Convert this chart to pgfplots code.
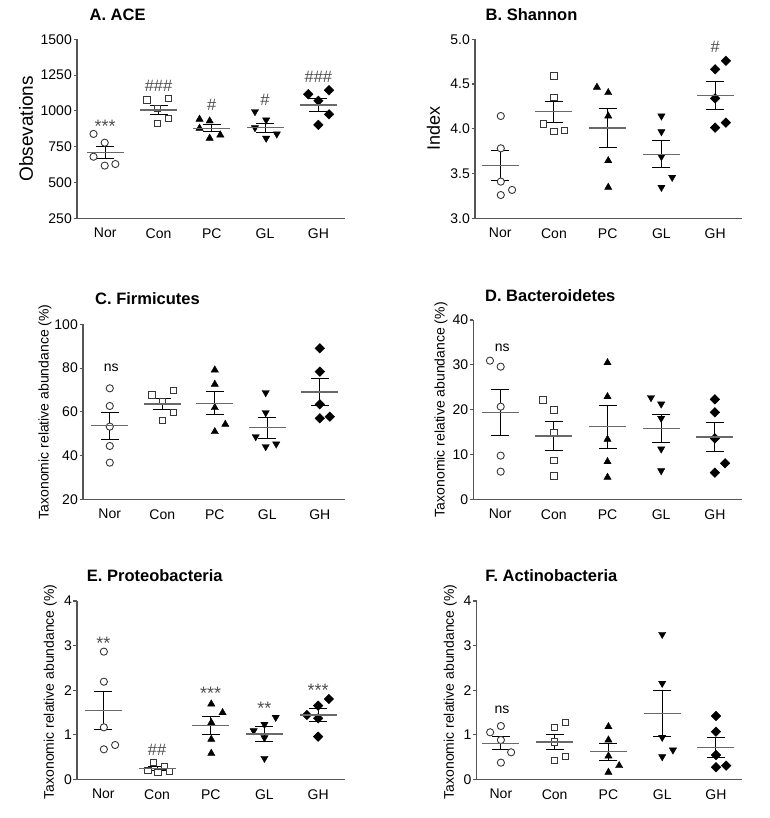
\documentclass[border=0pt]{standalone}
\usepackage{fontspec}
\setmainfont{Liberation Sans}
\usepackage{pgfplots}
\pgfplotsset{compat=1.18}

\definecolor{axcol}{RGB}{85,85,85}
\definecolor{meancol}{RGB}{105,105,105}
\definecolor{mkcol}{RGB}{55,55,55}
\definecolor{anncol}{RGB}{80,80,80}

\newcommand{\fs}[1]{\fontsize{#1}{#1}\selectfont}

\pgfplotsset{
  panel/.style={
    scale only axis, clip=false,
    axis x line*=bottom, axis y line*=left,
    axis line style={axcol, line width=1.3pt},
    xtick={0,1,2,3,4}, xticklabels={Nor,Con,PC,GL,GH},
    xtick style={draw=none},
    ytick style={axcol, line width=1.1pt},
    tick align=outside, major tick length=3.5pt,
    tick label style={font=\fs{14}},
    yticklabel style={inner sep=1.5pt},
    xticklabel style={yshift=-3pt},
    /pgf/number format/assume math mode=true,
    /pgf/number format/1000 sep={},
    ylabel style={anchor=center},
    title style={anchor=base west},
  },
  nor/.style={only marks, mark=*, mark size=3.6pt, mark options={draw=mkcol, fill=white, line width=0.9pt}},
  con/.style={only marks, mark=square*, mark size=3.2pt, mark options={draw=mkcol, fill=white, line width=0.9pt}},
  pc/.style={only marks, mark=triangle*, mark size=4.2pt, mark options={draw=black, fill=black}},
  gl/.style={only marks, mark=triangle*, mark size=4.2pt, mark options={draw=black, fill=black, rotate=180}},
  gh/.style={only marks, mark=square*, mark size=3.4pt, mark options={draw=black, fill=black, rotate=45}},
  stat/.style={only marks, mark=-, mark size=18.5pt, mark options={draw=meancol, line width=1.3pt},
    error bars/.cd, y dir=both, y explicit,
    error bar style={line width=1pt, black},
    error mark=-,
    error mark options={mark size=9pt, line width=1pt, black, rotate=90}},
}
\tikzset{
  hash/.style={text=anncol, font=\fs{16.5}, inner sep=0pt},
  star/.style={text=anncol, font=\fs{18}, inner sep=0pt},
  ns/.style={text=black, font=\fs{14}, inner sep=0pt},
}

\begin{document}
\begin{tikzpicture}
\useasboundingbox (0,0) rectangle (769pt,-818pt);

% A. ACE
\begin{axis}[panel, at={(77pt,-218.3pt)}, anchor=south west,
  width=268pt, height=179pt, xmin=-0.53, xmax=4.5,
  ymin=250, ymax=1500, ytick={250,500,750,1000,1250,1500},
  ylabel={\fs{19}Obsevations}, ylabel style={at={(axis description cs:-0.19,0.5)}},
  title={\fs{16.5}\bfseries A. ACE}, title style={at={(axis description cs:0.034,1.07)}}]
\addplot[nor] coordinates {(-0.22,839) (-0.01,778) (-0.22,680) (-0.01,618) (0.19,629)};
\addplot[con] coordinates {(0.78,1076) (1.19,1088) (0.98,1018) (0.98,914) (1.19,949)};
\addplot[pc] coordinates {(1.77,942) (1.96,930) (1.77,879) (1.96,809) (2.16,832)};
\addplot[gl] coordinates {(2.81,995) (3.02,937) (2.81,883) (3.02,809) (3.22,839)};
\addplot[gh] coordinates {(3.81,1116) (4.2,1144) (4.0,1071) (4.2,976) (4.0,902)};
\addplot[stat] coordinates {(0,711) +- (0,40) (1,1007) +- (0,29) (2,879) +- (0,26) (3,882) +- (0,31) (4,1041) +- (0,45)};
\node[star] at (axis cs:0,895) {***};
\node[hash] at (axis cs:1,1174) {\#\#\#};
\node[hash] at (axis cs:2,1041) {\#};
\node[hash] at (axis cs:3,1076) {\#};
\node[hash] at (axis cs:4,1235) {\#\#\#};
\end{axis}

% B. Shannon
\begin{axis}[panel, at={(475pt,-218.3pt)}, anchor=south west,
  width=267pt, height=179pt, xmin=-0.47, xmax=4.5,
  ymin=3, ymax=5, ytick={3,3.5,4,4.5,5},
  yticklabel style={/pgf/number format/.cd, fixed, fixed zerofill, precision=1},
  ylabel={\fs{18}Index}, ylabel style={at={(axis description cs:-0.156,0.5)}},
  title={\fs{16.5}\bfseries B. Shannon}, title style={at={(axis description cs:0.027,1.07)}}]
\addplot[nor] coordinates {(0.01,4.143) (0.01,3.782) (0.01,3.41) (0.01,3.26) (0.22,3.317)};
\addplot[con] coordinates {(1.0,4.59) (1.0,4.352) (0.8,4.054) (1.0,3.968) (1.2,3.98)};
\addplot[pc] coordinates {(1.8,4.464) (2.01,4.404) (2.01,4.143) (2.01,3.644) (2.01,3.346)};
\addplot[gl] coordinates {(3,4.143) (3,3.968) (3,3.689) (3.2,3.458) (3,3.346)};
\addplot[gh] coordinates {(4.2,4.76) (4.0,4.665) (4.0,4.34) (4.2,4.069) (4.0,4.013)};
\addplot[stat] coordinates {(0,3.588) +- (0,0.168) (1,4.19) +- (0,0.12) (2,4.01) +- (0,0.216) (3,3.715) +- (0,0.151) (4,4.37) +- (0,0.153)};
\node[hash] at (axis cs:4,4.918) {\#};
\end{axis}

% C. Firmicutes
\begin{axis}[panel, at={(83pt,-499.3pt)}, anchor=south west,
  width=262pt, height=175pt, xmin=-0.51, xmax=4.48,
  ymin=20, ymax=100, ytick={20,40,60,80,100},
  ylabel={\fs{14}Taxonomic relative abundance (\%)}, ylabel style={at={(axis description cs:-0.145,0.5)}},
  title={\fs{16.5}\bfseries C. Firmicutes}, title style={at={(axis description cs:0.033,1.078)}}]
\addplot[nor] coordinates {(0,70.74) (0,62.67) (0,53.22) (0,44.38) (0,36.76)};
\addplot[con] coordinates {(0.8,67.7) (1.21,69.68) (1,64.65) (1.21,59.62) (1,55.96)};
\addplot[pc] coordinates {(2,79.12) (2,72.57) (2,61.9) (2.2,54.29) (2,50.93)};
\addplot[gl] coordinates {(2.97,68.76) (2.97,59.62) (2.78,48.65) (2.97,44.08) (3.17,45.3)};
\addplot[gh] coordinates {(4,89.03) (4,78.36) (4,63.43) (4,57.03) (4.19,57.79)};
\addplot[stat] coordinates {(0,53.6) +- (0,6.1) (1,63.6) +- (0,2.5) (2,63.9) +- (0,5.3) (3,52.7) +- (0,4.7) (4,69.1) +- (0,6.2)};
\node[ns] at (axis cs:0.03,79.9) {ns};
\end{axis}

% D. Bacteroidetes
\begin{axis}[panel, at={(473.3pt,-499.3pt)}, anchor=south west,
  width=268.4pt, height=179.3pt, xmin=-0.5, xmax=4.5,
  ymin=0, ymax=40, ytick={0,10,20,30,40},
  ylabel={\fs{14}Taxonomic relative abundance (\%)}, ylabel style={at={(axis description cs:-0.12,0.5)}},
  title={\fs{16.5}\bfseries D. Bacteroidetes}, title style={at={(axis description cs:0.031,1.071)}}]
\addplot[nor] coordinates {(-0.19,30.93) (0.01,29.59) (0.01,20.67) (0.01,9.74) (0.01,6.17)};
\addplot[con] coordinates {(0.8,22.16) (1,19.93) (1,14.87) (1,8.62) (1,5.2)};
\addplot[pc] coordinates {(2,30.48) (2,22.9) (2,13.38) (2,8.4) (2,4.9)};
\addplot[gl] coordinates {(2.81,22.68) (3,21.26) (3,18.07) (3,11.23) (3,6.39)};
\addplot[gh] coordinates {(4,22.3) (4,19.41) (4,13.6) (4.19,8.03) (4,5.95)};
\addplot[stat] coordinates {(0,19.4) +- (0,5.06) (1,14.1) +- (0,3.2) (2,16.2) +- (0,4.76) (3,15.84) +- (0,3.13) (4,13.9) +- (0,3.16)};
\node[ns] at (axis cs:0.04,33.7) {ns};
\end{axis}

% E. Proteobacteria
\begin{axis}[panel, at={(77pt,-779.3pt)}, anchor=south west,
  width=268pt, height=178.3pt, xmin=-0.49, xmax=4.5,
  ymin=0, ymax=4, ytick={0,1,2,3,4},
  ylabel={\fs{14}Taxonomic relative abundance (\%)}, ylabel style={at={(axis description cs:-0.10,0.49)}},
  title={\fs{16.5}\bfseries E. Proteobacteria}, title style={at={(axis description cs:0.024,1.077)}}]
\addplot[nor] coordinates {(0.01,2.864) (0.01,2.19) (0.01,1.166) (0.01,0.673) (0.22,0.77)};
\addplot[con] coordinates {(0.83,0.194) (0.93,0.374) (1.02,0.149) (1.14,0.284) (1.23,0.172)};
\addplot[pc] coordinates {(2.01,1.69) (2.22,1.495) (2.01,1.271) (2.01,0.897) (2.01,0.583)};
\addplot[gl] coordinates {(3.21,1.391) (3.0,1.234) (2.8,1.09) (3.0,0.933) (3.0,0.47)};
\addplot[gh] coordinates {(4.2,1.802) (4.0,1.652) (3.79,1.443) (4.0,1.369) (4.0,0.957)};
\addplot[stat] coordinates {(0,1.54) +- (0,0.43) (1,0.247) +- (0,0.04) (2,1.204) +- (0,0.2) (3,1.017) +- (0,0.16) (4,1.443) +- (0,0.143)};
\node[star] at (axis cs:0,3.06) {**};
\node[hash] at (axis cs:1,0.658) {\#\#};
\node[star] at (axis cs:2,1.93) {***};
\node[star] at (axis cs:3,1.60) {**};
\node[star] at (axis cs:4,2.00) {***};
\end{axis}

% F. Actinobacteria
\begin{axis}[panel, at={(476.7pt,-779.3pt)}, anchor=south west,
  width=265.6pt, height=178.3pt, xmin=-0.45, xmax=4.49,
  ymin=0, ymax=4, ytick={0,1,2,3,4},
  ylabel={\fs{14}Taxonomic relative abundance (\%)}, ylabel style={at={(axis description cs:-0.10,0.49)}},
  title={\fs{16.5}\bfseries F. Actinobacteria}, title style={at={(axis description cs:0.019,1.077)}}]
\addplot[nor] coordinates {(-0.2,1.055) (0,1.196) (0,0.882) (0.19,0.606) (0,0.374)};
\addplot[con] coordinates {(1,1.17) (1.2,1.271) (1,0.837) (1.2,0.508) (1,0.419)};
\addplot[pc] coordinates {(2,1.181) (2,0.882) (2,0.523) (2.2,0.307) (2,0.157)};
\addplot[gl] coordinates {(3,3.252) (3,2.153) (3,0.942) (3.2,0.658) (3,0.508)};
\addplot[gh] coordinates {(4,1.421) (4,1.069) (4,0.546) (4,0.27) (4.19,0.307)};
\addplot[stat] coordinates {(0,0.81) +- (0,0.143) (1,0.837) +- (0,0.168) (2,0.62) +- (0,0.187) (3,1.48) +- (0,0.523) (4,0.718) +- (0,0.225)};
\node[ns] at (axis cs:0.02,1.57) {ns};
\end{axis}
\end{tikzpicture}
\end{document}
